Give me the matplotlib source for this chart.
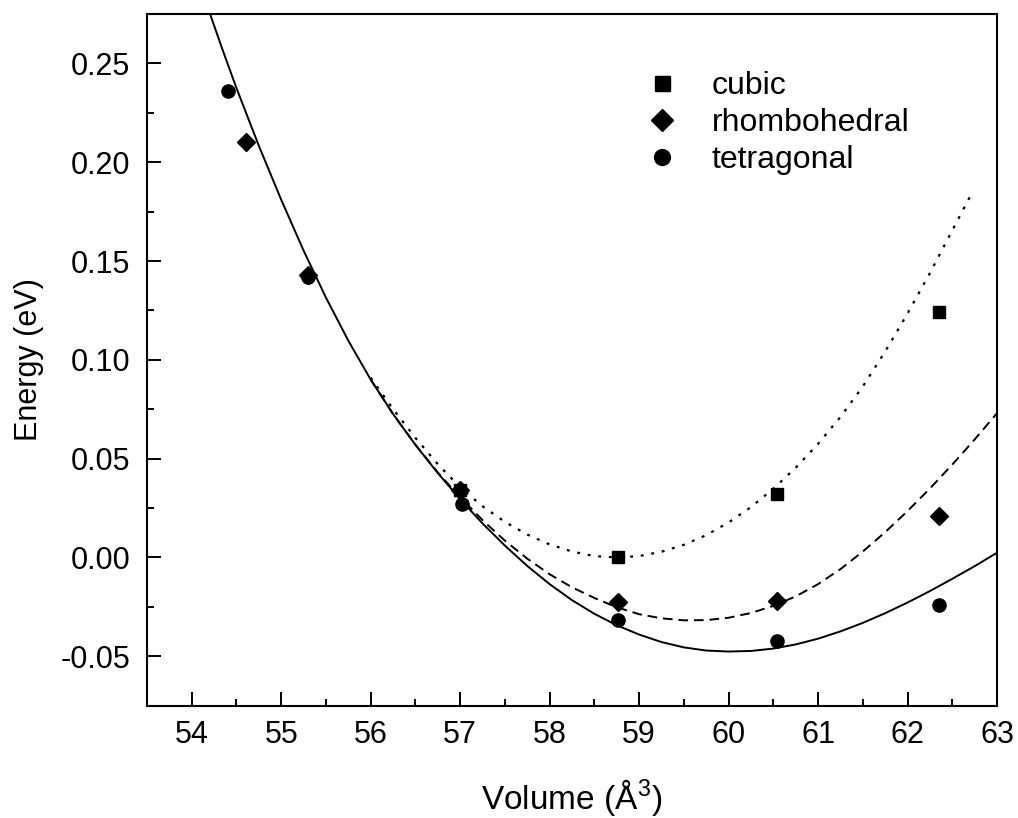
import matplotlib
matplotlib.use("Agg")
import matplotlib.pyplot as plt
from matplotlib.ticker import MultipleLocator, FormatStrFormatter

plt.rcParams['font.family'] = ['Liberation Sans', 'DejaVu Sans']
plt.rcParams['mathtext.fontset'] = 'custom'
plt.rcParams['mathtext.rm'] = 'Liberation Sans'
plt.rcParams['axes.unicode_minus'] = False

# computed points (volume in A^3, energy in eV)
cubic_v = [57.0, 58.76, 60.54, 62.35]
cubic_e = [0.034, 0.000, 0.032, 0.124]
rhombo_v = [54.61, 55.30, 57.0, 58.76, 60.54, 62.35]
rhombo_e = [0.210, 0.143, 0.034, -0.0225, -0.0221, 0.0209]
tetra_v = [54.40, 55.30, 57.02, 58.76, 60.54, 62.35]
tetra_e = [0.236, 0.142, 0.027, -0.0314, -0.0424, -0.0243]

# fitted curves
fit_tetra_v = [54.2, 54.35, 54.5, 54.75, 55.0, 55.25, 55.5, 55.75, 56.0, 56.25,
               56.5, 56.75, 57.0, 57.25, 57.5, 57.75, 58.0, 58.25, 58.5, 58.75,
               59.0, 59.25, 59.5, 59.75, 60.0, 60.25, 60.5, 60.75, 61.0, 61.25,
               61.5, 61.75, 62.0, 62.25, 62.5, 62.75, 63.0]
fit_tetra_e = [0.2756, 0.2562, 0.2375, 0.2083, 0.181, 0.1553, 0.1315, 0.1097,
               0.090, 0.0726, 0.057, 0.0427, 0.0295, 0.0172, 0.006, -0.0043,
               -0.0135, -0.0216, -0.0285, -0.0343, -0.039, -0.0428, -0.0455,
               -0.0471, -0.0476, -0.0473, -0.0461, -0.0440, -0.0411, -0.0374,
               -0.0331, -0.0282, -0.0228, -0.0170, -0.0108, -0.0044, 0.0024]
fit_rhombo_v = [56.0, 56.25, 56.5, 56.75, 57.0, 57.25, 57.5, 57.75, 58.0, 58.25,
                58.5, 58.75, 59.0, 59.25, 59.5, 59.75, 60.0, 60.25, 60.5, 60.75,
                61.0, 61.25, 61.5, 61.75, 62.0, 62.25, 62.5, 62.75, 63.0]
fit_rhombo_e = [0.090, 0.0726, 0.057, 0.0430, 0.0305, 0.0189, 0.0085, -0.0006,
                -0.0085, -0.0151, -0.0205, -0.0252, -0.0287, -0.0308, -0.0318,
                -0.0317, -0.0305, -0.0281, -0.0245, -0.0197, -0.0135, -0.0059,
                0.003, 0.0128, 0.0235, 0.0349, 0.047, 0.0597, 0.073]
fit_cubic_v = [56.0, 56.25, 56.5, 56.75, 57.0, 57.25, 57.5, 57.75, 58.0, 58.25,
               58.5, 58.75, 59.0, 59.25, 59.5, 59.75, 60.0, 60.25, 60.5, 60.75,
               61.0, 61.25, 61.5, 61.75, 62.0, 62.25, 62.5, 62.72]
fit_cubic_e = [0.091, 0.0751, 0.0605, 0.0472, 0.0355, 0.0259, 0.018, 0.0116,
               0.0066, 0.0030, 0.0007, 0.0000, 0.0007, 0.0029, 0.0064, 0.0113,
               0.0177, 0.0255, 0.0348, 0.0454, 0.0575, 0.0711, 0.0865, 0.1042,
               0.1235, 0.1439, 0.1655, 0.1845]

fig = plt.figure(figsize=(10.18, 8.18), dpi=100)
ax = fig.add_axes([0.1444, 0.1373, 0.8350, 0.8456])

lw = 1.4
ax.plot(fit_tetra_v, fit_tetra_e, color='black', lw=lw, ls='-')
ax.plot(fit_rhombo_v, fit_rhombo_e, color='black', lw=lw, ls=(0, (5, 3)))
ax.plot(fit_cubic_v, fit_cubic_e, color='black', lw=1.6, ls=(0, (1.3, 3.5)))

ax.plot(cubic_v, cubic_e, 's', color='black', ms=9, ls='none', label='cubic')
ax.plot(rhombo_v, rhombo_e, 'D', color='black', ms=9, ls='none', label='rhombohedral')
ax.plot(tetra_v, tetra_e, 'o', color='black', ms=9.5, ls='none', label='tetragonal')

ax.set_xlim(53.5, 63.0)
ax.set_ylim(-0.075, 0.275)
ax.xaxis.set_major_locator(MultipleLocator(1))
ax.xaxis.set_minor_locator(MultipleLocator(0.5))
ax.yaxis.set_major_locator(MultipleLocator(0.05))
ax.yaxis.set_minor_locator(MultipleLocator(0.025))
ax.yaxis.set_major_formatter(FormatStrFormatter('%.2f'))

ax.tick_params(which='both', direction='in', top=False, right=False, width=1.4)
ax.tick_params(which='major', length=10, labelsize=22, pad=10)
ax.tick_params(axis='y', which='major', pad=12)
ax.tick_params(which='minor', length=5)
for sp in ax.spines.values():
    sp.set_linewidth(1.5)

ax.set_xlabel('Volume (Å$^3$)', fontsize=24, labelpad=20)
ax.set_ylabel('Energy (eV)', fontsize=22, labelpad=12)

ax.legend(loc='upper left', bbox_to_anchor=(0.587, 0.918), frameon=False,
          fontsize=23, markerscale=1.2, handlelength=1.0, handletextpad=1.05,
          labelspacing=0.22, borderpad=0, borderaxespad=0)

fig.savefig('out.png', dpi=100)
